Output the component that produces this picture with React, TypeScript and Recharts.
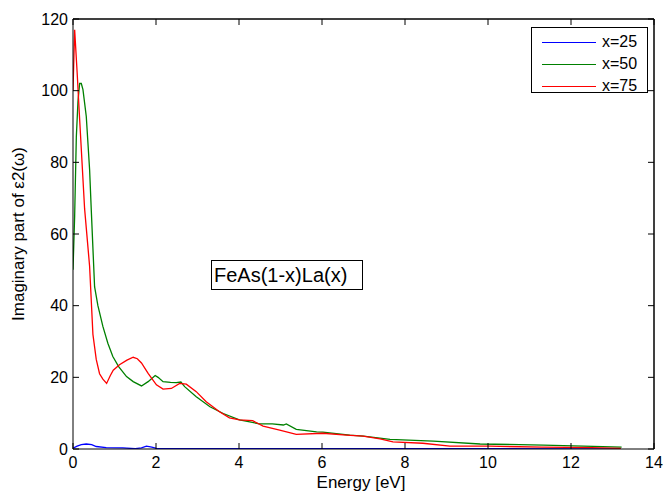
import React from 'react';
import { LineChart, Line, XAxis, YAxis, ReferenceLine } from 'recharts';

const seriesNames = ['x=25', 'x=50', 'x=75'];
const seriesKeys = ['eps25', 'eps50', 'eps75'];
const seriesColors = ['#0000ff', '#008000', '#ff0000'];

const energy25 = [0, 0.1, 0.2, 0.32, 0.45, 0.56, 0.8, 1.2, 1.5, 1.65, 1.77, 1.9, 2.01, 2.5, 4, 6, 8, 10, 12, 13.2];
const eps25 = [0.2, 0.8, 1.2, 1.4, 1.2, 0.7, 0.4, 0.3, 0.1, 0.3, 0.8, 0.5, 0.2, 0.1, 0.1, 0.1, 0.1, 0.1, 0.05, 0.05];

const energy50 = [0, 0.04, 0.08, 0.12, 0.16, 0.2, 0.24, 0.32, 0.4, 0.44, 0.52, 0.6, 0.72, 0.84, 0.96, 1.1, 1.29, 1.45, 1.65, 1.81, 1.98, 2.05, 2.17, 2.35, 2.49, 2.6, 2.69, 2.97, 3.3, 3.62, 4.01, 4.26, 4.49, 4.8, 5.07, 5.14, 5.38, 5.87, 6.02, 6.67, 7.0, 7.64, 8.68, 9.81, 11.33, 12.3, 13.22];
const eps50 = [50, 65, 87, 97, 102, 102, 100.3, 92.8, 78, 66.8, 45.3, 40, 34.2, 29.5, 25.8, 23, 20.2, 18.8, 17.6, 18.8, 20.5, 20, 18.8, 18.6, 18.5, 18.7, 17.4, 14.6, 11.8, 9.9, 8.1, 7.6, 7.0, 7.0, 6.7, 7.0, 5.5, 4.8, 4.7, 3.9, 3.6, 2.7, 2.2, 1.4, 1.1, 0.8, 0.5];

const energy75 = [0, 0.04, 0.1, 0.16, 0.28, 0.4, 0.48, 0.56, 0.64, 0.72, 0.81, 0.9, 0.97, 1.12, 1.3, 1.45, 1.55, 1.65, 1.81, 2.01, 2.17, 2.37, 2.57, 2.73, 2.97, 3.21, 3.53, 3.77, 4.01, 4.33, 4.58, 4.98, 5.38, 6.02, 6.59, 6.99, 7.4, 7.71, 8.43, 9.08, 10.04, 11.3, 12.5, 13.2];
const eps75 = [100, 117, 105, 92, 67, 51, 32, 25, 21, 19.5, 18.3, 20.5, 22, 23.5, 24.8, 25.6, 25.2, 24, 21.1, 17.9, 16.7, 16.9, 18.3, 18.1, 16, 13.2, 10.4, 8.7, 8.1, 7.9, 6.4, 5.3, 4.1, 4.4, 3.9, 3.6, 2.8, 2.0, 1.6, 0.8, 0.8, 0.5, 0.4, 0.2];

const xTicks = [0, 2, 4, 6, 8, 10, 12, 14];
const yTicks = [0, 20, 40, 60, 80, 100, 120];
const xMax = 14;
const yMax = 120;
const annotationText = 'FeAs(1-x)La(x)';
const xLabel = 'Energy [eV]';
const yLabel = 'Imaginary part of ε2(ω)';

// combined table: one row per distinct energy, each series key present only where it has a value
const buildTable = () => {
  const rows = new Map<number, any>();
  const add = (xs: number[], ys: number[], key: string) => {
    xs.forEach((e, i) => {
      const r = rows.get(e) || { energy: e };
      r[key] = ys[i];
      rows.set(e, r);
    });
  };
  add(energy25, eps25, 'eps25');
  add(energy50, eps50, 'eps50');
  add(energy75, eps75, 'eps75');
  return Array.from(rows.values()).sort((a, b) => a.energy - b.energy);
};
const tableData = buildTable();

const FONT = '"Liberation Sans", Arial, Helvetica, sans-serif';

const LegendBox = () => (
  <div
    style={{
      position: 'absolute',
      left: 531,
      top: 27,
      width: 117,
      height: 66,
      border: '1px solid #000',
      background: '#fff',
      fontFamily: FONT,
      fontSize: 16,
      boxSizing: 'border-box',
    }}
  >
    {seriesNames.map((n, i) => (
      <div key={n} style={{ position: 'absolute', left: 0, top: 4 + i * 22, height: 22, width: '100%' }}>
        <div style={{ position: 'absolute', left: 10, top: 10, width: 54, height: 0, borderTop: `1px solid ${seriesColors[i]}` }} />
        <span style={{ position: 'absolute', left: 70, top: 0, lineHeight: '20px', color: '#000' }}>{n}</span>
      </div>
    ))}
  </div>
);

export default function App() {
  return (
    <div style={{ position: 'absolute', left: 0, top: 0, width: 665, height: 493, background: '#fff', fontFamily: FONT }}>
      <LineChart
        width={665}
        height={493}
        data={tableData}
        margin={{ top: 18, right: 10, bottom: 14, left: 33 }}
        style={{ fontFamily: FONT }}
      >
        <XAxis
          xAxisId="bottom"
          dataKey="energy"
          type="number"
          domain={[0, xMax]}
          ticks={xTicks}
          allowDataOverflow
          height={30}
          stroke="#000"
          tickSize={-6}
          tickMargin={14}
          tick={{ fill: '#000', fontSize: 16 }}
          label={() => (
            <text x={361} y={488} textAnchor="middle" fontSize={17} fill="#000" fontFamily={FONT}>
              {xLabel}
            </text>
          )}
        />
        <XAxis
          xAxisId="top"
          orientation="top"
          dataKey="energy"
          type="number"
          domain={[0, xMax]}
          ticks={xTicks}
          allowDataOverflow
          height={1}
          stroke="#000"
          tickSize={-6}
          tick={{ fill: 'transparent', fontSize: 1 }}
        />
        <YAxis
          yAxisId="left"
          type="number"
          domain={[0, yMax]}
          ticks={yTicks}
          allowDataOverflow
          width={40}
          stroke="#000"
          tickSize={-6}
          tickMargin={11}
          tick={{ fill: '#000', fontSize: 16 }}
          label={() => (
            <text
              x={18}
              y={234}
              transform="rotate(-90, 18, 234)"
              textAnchor="middle"
              dominantBaseline="central"
              fontSize={17}
              fill="#000"
              fontFamily={FONT}
            >
              {yLabel}
            </text>
          )}
        />
        <YAxis
          yAxisId="right"
          orientation="right"
          type="number"
          domain={[0, yMax]}
          ticks={yTicks}
          allowDataOverflow
          width={1}
          stroke="#000"
          tickSize={-6}
          tick={{ fill: 'transparent', fontSize: 1 }}
        />
        <ReferenceLine xAxisId="bottom" yAxisId="left" y={yMax} stroke="#000" strokeWidth={1} ifOverflow="visible" />
        <ReferenceLine xAxisId="bottom" yAxisId="left" x={xMax} stroke="#000" strokeWidth={1} ifOverflow="visible" />
        <Line
          xAxisId="top"
          yAxisId="right"
          dataKey="eps50"
          stroke="none"
          dot={false}
          activeDot={false}
          legendType="none"
          connectNulls
          isAnimationActive={false}
        />
        {seriesKeys.map((k, i) => (
          <Line
            key={k}
            xAxisId="bottom"
            yAxisId="left"
            dataKey={k}
            name={seriesNames[i]}
            stroke={seriesColors[i]}
            strokeWidth={1.3}
            dot={false}
            activeDot={false}
            type="linear"
            connectNulls
            isAnimationActive={false}
          />
        ))}
      </LineChart>
      <LegendBox />
      <div
        style={{
          position: 'absolute',
          left: 211,
          top: 260,
          width: 152,
          height: 30,
          border: '1px solid #000',
          boxSizing: 'border-box',
          fontSize: 20,
          lineHeight: '28px',
          paddingLeft: 2,
          color: '#000',
          fontFamily: FONT,
          background: 'transparent',
        }}
      >
        {annotationText}
      </div>
    </div>
  );
}
